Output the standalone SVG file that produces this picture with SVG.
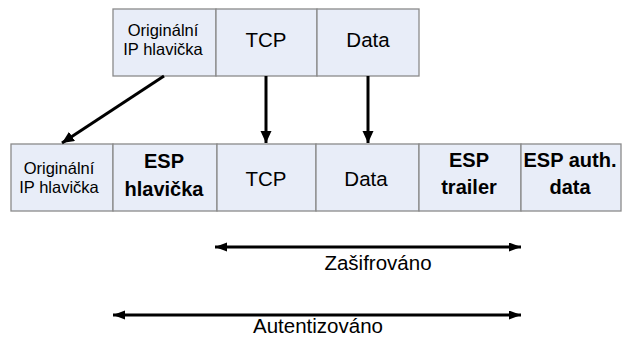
<svg xmlns="http://www.w3.org/2000/svg" width="623" height="338" viewBox="0 0 623 338">
  <style>
    .box { fill: #E8EDF8; stroke: #8A8A8A; stroke-width: 1.3; }
    .t { font-family: "Liberation Sans", Arial, sans-serif; fill: #000; text-anchor: middle; }
    .sm { font-size: 16.5px; }
    .md { font-size: 20.5px; }
    .bd { font-size: 20px; font-weight: bold; }
    .lbl { font-size: 20.5px; }
    .conn { stroke: #000; stroke-width: 3; fill: none; }
  </style>
  <defs>
    <marker id="ah" markerUnits="userSpaceOnUse" markerWidth="13" markerHeight="12" refX="12" refY="5.5" orient="auto">
      <path d="M0,0 L12,5.5 L0,11 z" fill="#000"/>
    </marker>
    <marker id="ah2" markerUnits="userSpaceOnUse" markerWidth="13" markerHeight="10" refX="12" refY="4.5" orient="auto-start-reverse">
      <path d="M0,0 L12,4.5 L0,9 z" fill="#000"/>
    </marker>
  </defs>

  <rect width="623" height="338" fill="#FFFFFF"/>

  <!-- top row -->
  <g id="top-ip">
    <rect class="box" x="113" y="9" width="103" height="67"/>
    <text class="t sm" x="163" y="36">Originální</text>
    <text class="t sm" x="163" y="55">IP hlavička</text>
  </g>
  <g id="top-tcp">
    <rect class="box" x="216" y="9" width="101" height="67"/>
    <text class="t md" x="266" y="47">TCP</text>
  </g>
  <g id="top-data">
    <rect class="box" x="317" y="9" width="102" height="67"/>
    <text class="t md" x="368" y="47">Data</text>
  </g>

  <!-- bottom row -->
  <g id="bot-ip">
    <rect class="box" x="11" y="144" width="102" height="67"/>
    <text class="t sm" x="59" y="174">Originální</text>
    <text class="t sm" x="59" y="193">IP hlavička</text>
  </g>
  <g id="bot-esp-header">
    <rect class="box" x="113" y="144" width="104" height="67"/>
    <text class="t bd" x="164" y="168">ESP</text>
    <text class="t bd" x="164" y="196">hlavička</text>
  </g>
  <g id="bot-tcp">
    <rect class="box" x="217" y="144" width="99" height="67"/>
    <text class="t md" x="266" y="186">TCP</text>
  </g>
  <g id="bot-data">
    <rect class="box" x="316" y="144" width="103" height="67"/>
    <text class="t md" x="366" y="186">Data</text>
  </g>
  <g id="bot-esp-trailer">
    <rect class="box" x="419" y="144" width="102" height="67"/>
    <text class="t bd" x="469" y="167">ESP</text>
    <text class="t bd" x="469" y="194">trailer</text>
  </g>
  <g id="bot-esp-auth">
    <rect class="box" x="521" y="144" width="100" height="67"/>
    <text class="t bd" x="570" y="167">ESP auth.</text>
    <text class="t bd" x="570" y="194">data</text>
  </g>

  <!-- connectors -->
  <g id="connectors">
    <line class="conn" x1="164" y1="76" x2="62" y2="143" marker-end="url(#ah)"/>
    <line class="conn" x1="266" y1="76" x2="266" y2="143" marker-end="url(#ah)"/>
    <line class="conn" x1="368" y1="76" x2="368" y2="143" marker-end="url(#ah)"/>
    <line class="conn" x1="215" y1="247" x2="521" y2="247" marker-start="url(#ah2)" marker-end="url(#ah2)"/>
    <text class="t lbl" x="378" y="270">Zašifrováno</text>
    <line class="conn" x1="113" y1="315" x2="521" y2="315" marker-start="url(#ah2)" marker-end="url(#ah2)"/>
    <text class="t lbl" x="318" y="333">Autentizováno</text>
  </g>
</svg>
